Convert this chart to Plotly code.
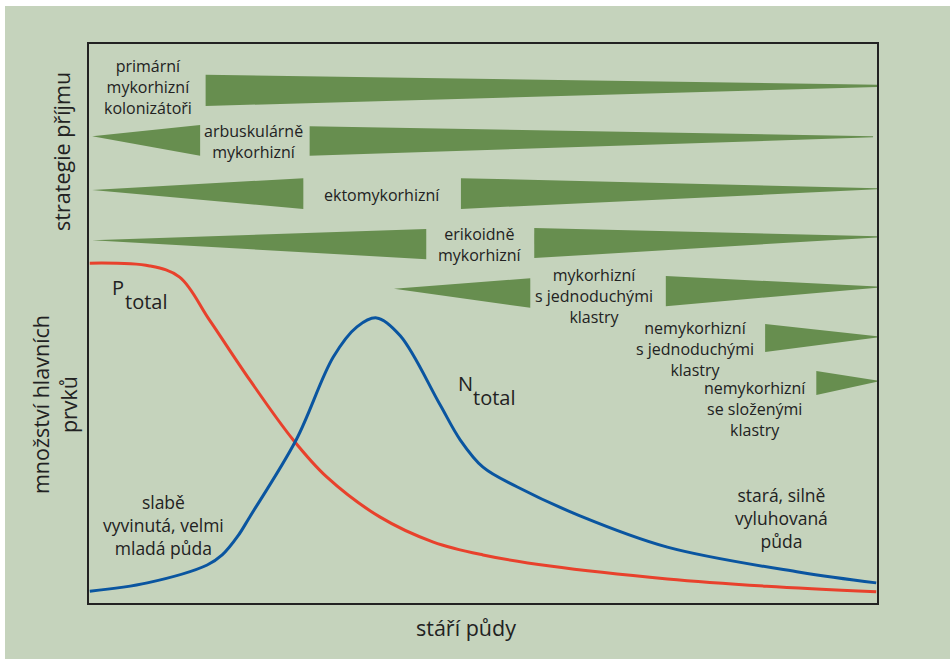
import plotly.graph_objects as go

# stáří půdy (0-100) a množství prvků (0-100)
age_p = [0.1, 7.7, 11.5, 15.3, 20.4, 25.9, 30.2, 36.9, 43.7, 50.0, 58.5, 73.4, 86.0, 99.9]
p_total = [60.8, 60.3, 58.3, 50.6, 39.9, 29.2, 22.5, 15.4, 10.9, 8.6, 6.6, 4.3, 3.0, 2.0]

age_n = [0.1, 7.4, 15.0, 16.9, 18.9, 20.4, 26.3, 31.0, 34.0, 36.5, 39.5, 44.5, 47.1, 50.0, 54.3, 62.3, 73.4, 90.2, 99.9]
n_total = [2.1, 3.6, 6.8, 8.6, 12.0, 15.4, 29.2, 44.0, 49.4, 51.0, 47.8, 35.6, 29.2, 24.3, 20.8, 15.6, 10.0, 5.5, 3.6]

# klíny strategií příjmu: začátek/konec a horní/dolní okraj na obou koncích
wedge_x0 = [14.8, 0.4, 28.0, 0.4, 47.2, 0.4, 56.5, 38.7, 73.2, 85.8, 92.3]
wedge_x1 = [100.0, 14.1, 99.5, 27.2, 100.0, 42.8, 100.0, 56.0, 100.0, 100.0, 100.0]
wedge_top0 = [94.5, 83.5, 85.3, 73.9, 76.0, 64.9, 67.1, 56.2, 58.5, 49.9, 41.5]
wedge_bot0 = [88.9, 83.5, 80.0, 73.9, 70.5, 64.9, 61.7, 56.2, 53.1, 44.9, 37.2]
wedge_top1 = [92.7, 85.5, 83.5, 76.0, 74.2, 66.9, 65.6, 58.1, 56.6, 47.7, 39.8]
wedge_bot1 = [92.3, 80.0, 83.3, 70.5, 74.0, 61.5, 65.4, 52.8, 56.4, 47.5, 39.6]

strategy_labels = ["primární<br>mykorhizní<br>kolonizátoři", "arbuskulárně<br>mykorhizní",
                   "ektomykorhizní", "erikoidně<br>mykorhizní",
                   "mykorhizní<br>s jednoduchými<br>klastry", "nemykorhizní<br>s jednoduchými<br>klastry",
                   "nemykorhizní<br>se složenými<br>klastry"]
label_x = [7.5, 20.9, 37.2, 49.6, 64.1, 76.9, 84.5]
label_y = [92.3, 82.6, 73.0, 64.2, 54.9, 45.4, 34.7]

BG = "#c5d3bc"
GREEN = "#678e4f"
FONT = "Open Sans"
INK = "#222"

fig = go.Figure()

for i in range(len(wedge_x0)):
    fig.add_trace(go.Scatter(
        x=[wedge_x0[i], wedge_x1[i], wedge_x1[i], wedge_x0[i], wedge_x0[i]],
        y=[wedge_top0[i], wedge_top1[i], wedge_bot1[i], wedge_bot0[i], wedge_top0[i]],
        mode='lines', fill='toself', fillcolor=GREEN,
        line=dict(width=0, color=GREEN), hoverinfo='skip', showlegend=False
    ))

fig.add_trace(go.Scatter(x=age_p, y=p_total, mode='lines',
                         line=dict(color="#e8412c", width=3, shape='spline', smoothing=1.0), showlegend=False))
fig.add_trace(go.Scatter(x=age_n, y=n_total, mode='lines',
                         line=dict(color="#0a55a0", width=3, shape='spline', smoothing=1.0), showlegend=False))

txt = dict(family=FONT, size=16, color=INK)
for lab, x, y in zip(strategy_labels, label_x, label_y):
    fig.add_annotation(x=x, y=y, text=lab, showarrow=False, font=txt, align='center')

big = dict(family=FONT, size=17.5, color=INK)
fig.add_annotation(x=9.4, y=14.0, text="slabě<br>vyvinutá, velmi<br>mladá půda", showarrow=False, font=big)
fig.add_annotation(x=87.9, y=15.2, text="stará, silně<br>vyluhovaná<br>půda", showarrow=False, font=big)

sym = dict(family=FONT, size=20, color=INK)
fig.add_annotation(x=3.7, y=56.5, text="P", showarrow=False, font=sym)
fig.add_annotation(x=7.2, y=54.0, text="total", showarrow=False, font=sym)
fig.add_annotation(x=47.8, y=39.2, text="N", showarrow=False, font=sym)
fig.add_annotation(x=51.4, y=36.7, text="total", showarrow=False, font=sym)

title = dict(family=FONT, size=21.5, color=INK)
fig.add_annotation(xref='paper', x=0, xshift=-27, xanchor='center', y=80.7, yanchor='middle',
                   text="strategie příjmu", textangle=-90, showarrow=False, font=title)
fig.add_annotation(xref='paper', x=0, xshift=-35, xanchor='center', y=35.4, yanchor='middle',
                   text="množství hlavních<br>prvků", textangle=-90, showarrow=False, font=title)
fig.add_annotation(x=47.9, yref='paper', y=0, yshift=-24, yanchor='middle', text="stáří půdy",
                   showarrow=False, font=title)

# bílý proužek nahoře a vlevo, zbytek zelený
fig.add_shape(type='rect', xref='paper', yref='paper', x0=-0.2, x1=1.2, y0=1.068, y1=1.3,
              fillcolor='white', line=dict(width=0), layer='below')
fig.add_shape(type='rect', xref='paper', yref='paper', x0=-0.2, x1=-0.1066, y0=-0.3, y1=1.3,
              fillcolor='white', line=dict(width=0), layer='below')

axis = dict(range=[0, 100], showgrid=False, zeroline=False, showticklabels=False, ticks='',
            showline=True, mirror=True, linecolor=INK, linewidth=1.5)

fig.update_layout(
    width=950, height=659,
    margin=dict(l=89, r=73, t=44, b=56),
    paper_bgcolor=BG, plot_bgcolor=BG,
    xaxis=axis, yaxis=axis,
    font=dict(family=FONT),
)

fig.write_html("out.html", config={'displayModeBar': False},
               post_script="document.body.style.margin='0px';document.body.style.overflow='hidden';")
